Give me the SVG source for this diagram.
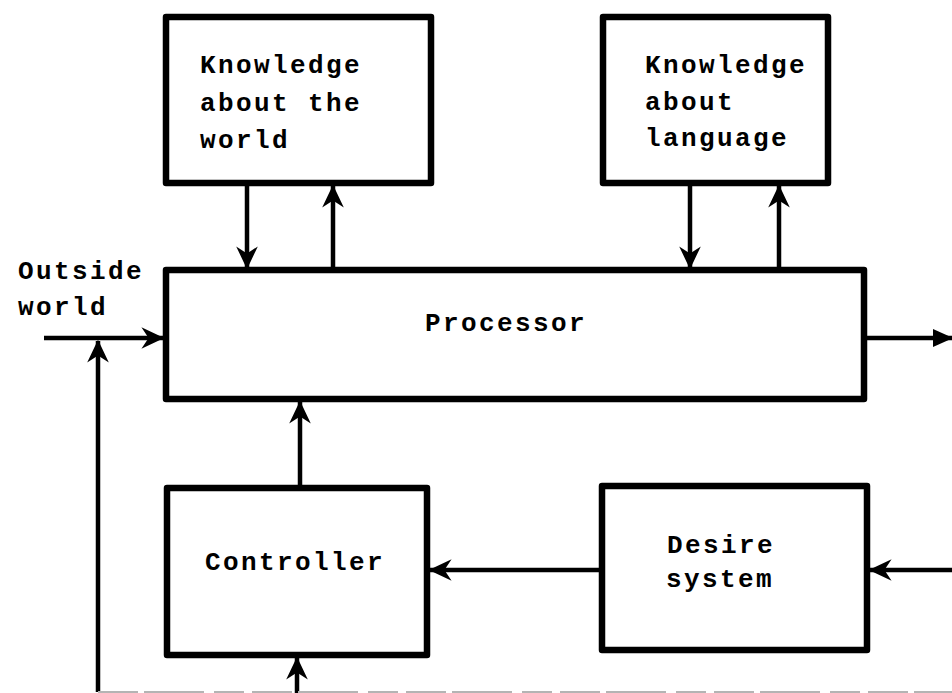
<svg xmlns="http://www.w3.org/2000/svg" width="952" height="693" viewBox="0 0 952 693">
  <style>
    .box { fill: #ffffff; stroke: #000000; stroke-width: 6.5; stroke-linejoin: round; }
    .wire { fill: none; stroke: #000000; stroke-width: 4.5; }
    .lbl { font-family: "Liberation Mono", "DejaVu Sans Mono", monospace; font-size: 26px; font-weight: bold; letter-spacing: 2.4px; fill: #000000; }
  </style>
  <defs>
    <!-- barbed arrowhead used on most connectors -->
    <marker id="barb" viewBox="0 0 20 20" refX="18" refY="10" markerWidth="24" markerHeight="24" markerUnits="userSpaceOnUse" orient="auto">
      <path d="M0,1 L19,10 L0,19 L6,10 Z" fill="#000000"/>
    </marker>
    <!-- solid head on the output line -->
    <marker id="solid" viewBox="0 0 20 20" refX="19" refY="10" markerWidth="20" markerHeight="20" markerUnits="userSpaceOnUse" orient="auto">
      <path d="M0,1 L20,10 L0,19 Z" fill="#000000"/>
    </marker>
  </defs>

  <rect width="952" height="693" fill="#ffffff"/>

  <g id="connectors">
    <!-- knowledge about the world <-> processor -->
    <line class="wire" x1="247" y1="183" x2="247" y2="268" marker-end="url(#barb)"/>
    <line class="wire" x1="333" y1="268" x2="333" y2="186" marker-end="url(#barb)"/>
    <!-- knowledge about language <-> processor -->
    <line class="wire" x1="690" y1="183" x2="690" y2="268" marker-end="url(#barb)"/>
    <line class="wire" x1="779" y1="268" x2="779" y2="186" marker-end="url(#barb)"/>
    <!-- outside world input -->
    <line class="wire" x1="44" y1="338" x2="163" y2="338" marker-end="url(#barb)"/>
    <!-- feedback from below -->
    <line class="wire" x1="98" y1="692" x2="98" y2="341" marker-end="url(#barb)"/>
    <!-- processor output -->
    <line class="wire" x1="866" y1="338" x2="952" y2="338" marker-end="url(#solid)"/>
    <!-- controller -> processor -->
    <line class="wire" x1="300" y1="486" x2="300" y2="402" marker-end="url(#barb)"/>
    <!-- desire system -> controller -->
    <line class="wire" x1="600" y1="570" x2="430" y2="570" marker-end="url(#barb)"/>
    <!-- input to desire system -->
    <line class="wire" x1="952" y1="570" x2="870" y2="570" marker-end="url(#barb)"/>
    <!-- input to controller -->
    <line class="wire" x1="297" y1="693" x2="297" y2="658" marker-end="url(#barb)"/>
    <!-- faint edge line along the bottom -->
    <line x1="98" y1="692" x2="952" y2="692" stroke="#b4b4b4" stroke-width="2" stroke-dasharray="40 6 60 10 30 8"/>
  </g>

  <g id="outside-world">
    <text class="lbl" x="18" y="279">Outside</text>
    <text class="lbl" x="18" y="315">world</text>
  </g>

  <g id="knowledge-world">
    <rect class="box" x="166" y="17" width="265" height="166"/>
    <text class="lbl" x="200" y="73">Knowledge</text>
    <text class="lbl" x="200" y="111">about the</text>
    <text class="lbl" x="200" y="148">world</text>
  </g>

  <g id="knowledge-language">
    <rect class="box" x="603" y="17" width="225" height="166"/>
    <text class="lbl" x="645" y="73">Knowledge</text>
    <text class="lbl" x="645" y="110">about</text>
    <text class="lbl" x="645" y="146">language</text>
  </g>

  <g id="processor">
    <rect class="box" x="166" y="270" width="698" height="129"/>
    <text class="lbl" x="425" y="331">Processor</text>
  </g>

  <g id="controller">
    <rect class="box" x="167" y="488" width="260" height="167"/>
    <text class="lbl" x="205" y="570">Controller</text>
  </g>

  <g id="desire-system">
    <rect class="box" x="602" y="486" width="265" height="164"/>
    <text class="lbl" x="667" y="553">Desire</text>
    <text class="lbl" x="666" y="587">system</text>
  </g>
</svg>
